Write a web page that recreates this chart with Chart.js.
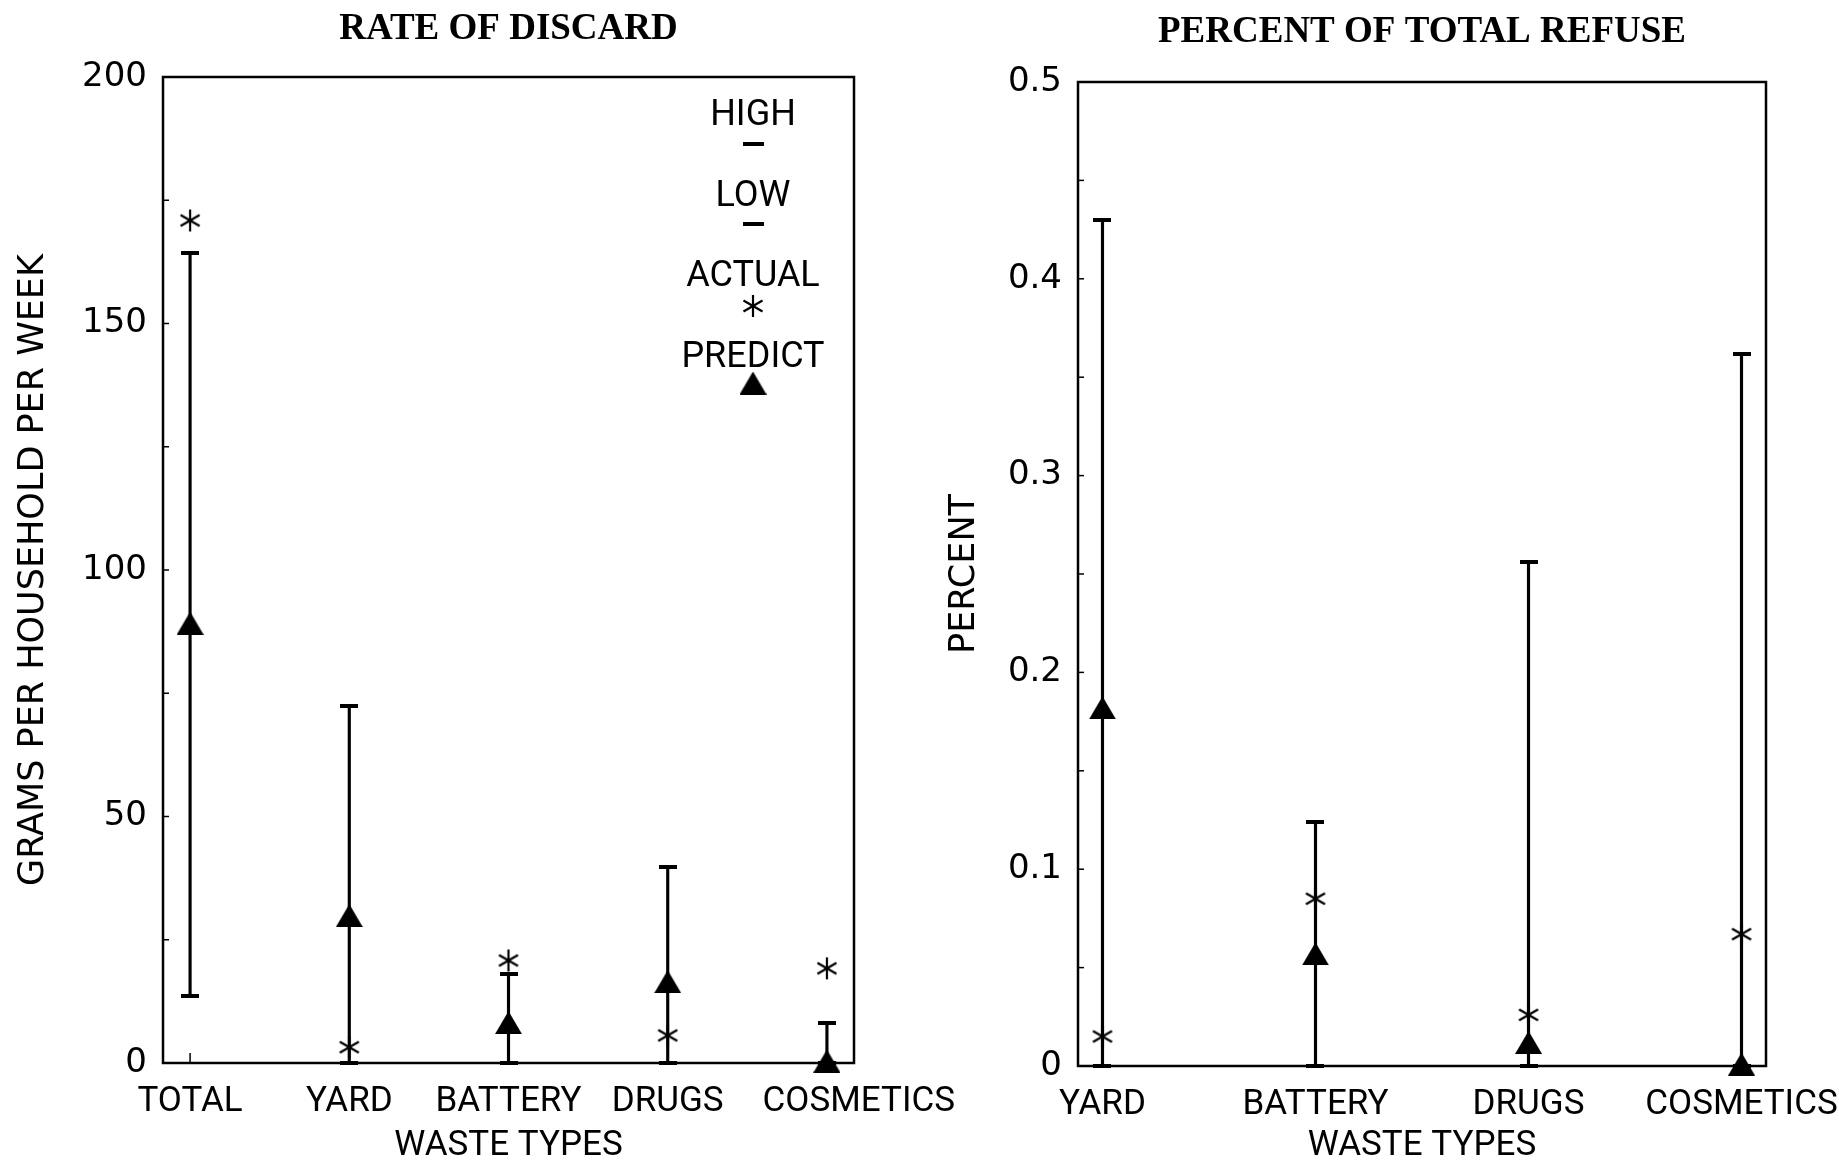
<!DOCTYPE html>
<html><head><meta charset="utf-8">
<script src="https://cdn.jsdelivr.net/npm/chart.js@4.4.1/dist/chart.umd.min.js"></script>
<style>
html,body{margin:0;padding:0;background:#fff;width:1839px;height:1161px;overflow:hidden}
#c1{position:absolute;left:0;top:0;z-index:2}
#c2{position:absolute;left:931px;top:0;z-index:1}
</style></head><body>
<canvas id="c1" width="962" height="1161"></canvas>
<canvas id="c2" width="908" height="1161"></canvas>
<script>
// ---- data: RATE OF DISCARD (grams per household per week)
const discardCategories = ['TOTAL', 'YARD', 'BATTERY', 'DRUGS', 'COSMETICS'];
const discardHigh    = [164.3, 72.5, 18.0, 39.7, 8.2];
const discardLow     = [13.5, 0, 0, 0, 0];
const discardActual  = [170.9, 3.2, 20.8, 5.6, 19.2];
const discardPredict = [89.2, 29.9, 8.2, 16.5, 0.4];
const discardTicks   = [0, 50, 100, 150, 200];
const discardMinor   = [25, 75, 125, 175];

// ---- data: PERCENT OF TOTAL REFUSE
const refuseCategories = ['YARD', 'BATTERY', 'DRUGS', 'COSMETICS'];
const refuseHigh    = [0.430, 0.124, 0.256, 0.362];
const refuseLow     = [0, 0, 0, 0];
const refuseActual  = [0.015, 0.085, 0.026, 0.067];
const refusePredict = [0.182, 0.057, 0.012, 0.001];
const refuseTicks   = [0, 0.1, 0.2, 0.3, 0.4, 0.5];
const refuseMinor   = [0.05, 0.15, 0.25, 0.35, 0.45];

const legendLabels = ['HIGH', 'LOW', 'ACTUAL', 'PREDICT'];

// ---- marker images
function makeAsterisk(size, lw) {
  const c = document.createElement('canvas'); c.width = c.height = size;
  const g = c.getContext('2d'); g.strokeStyle = '#000'; g.lineWidth = lw;
  const r = size / 2 - 1, cx = size / 2, cy = size / 2;
  for (const a of [90, 30, -30]) {
    const t = a * Math.PI / 180;
    g.beginPath();
    g.moveTo(cx - r * Math.cos(t), cy - r * Math.sin(t));
    g.lineTo(cx + r * Math.cos(t), cy + r * Math.sin(t));
    g.stroke();
  }
  return c;
}
function makeTriangle(w, h) {
  const c = document.createElement('canvas'); c.width = w; c.height = h;
  const g = c.getContext('2d'); g.fillStyle = '#000';
  g.beginPath(); g.moveTo(w / 2, 0); g.lineTo(w, h); g.lineTo(0, h); g.closePath(); g.fill();
  return c;
}
function makeCap(w, h) {
  const c = document.createElement('canvas'); c.width = w; c.height = h;
  const g = c.getContext('2d'); g.fillStyle = '#000'; g.fillRect(0, 0, w, h);
  return c;
}
const starImg = makeAsterisk(24, 2.2);
const triImg = makeTriangle(27, 23);
const capImg = makeCap(18, 4);
const legCapImg = makeCap(21, 4);

const tickFont = {family: '"DejaVu Sans", sans-serif', size: 34};
const catFont = {family: 'Roboto, "Liberation Sans", sans-serif', size: 35};
const xTitleFont = {family: 'Roboto, "Liberation Sans", sans-serif', size: 35, lineHeight: 0.85};
const yTitleFont = {family: '"DejaVu Sans", sans-serif', size: 35};

const decor = {
  id: 'decor',
  afterDatasetsDraw(chart, args, o) {
    const {ctx, chartArea: a, scales: {x, y}} = chart;
    ctx.save();
    ctx.strokeStyle = '#000';
    ctx.lineWidth = 2.5;
    ctx.strokeRect(a.left, a.top, a.right - a.left, a.bottom - a.top);
    ctx.lineWidth = 1.5;
    for (const v of o.yMinor.concat(o.yMajor)) {
      const py = y.getPixelForValue(v);
      ctx.beginPath(); ctx.moveTo(a.left, py); ctx.lineTo(a.left + 6, py); ctx.stroke();
    }
    for (const v of o.xTicks) {
      const px = x.getPixelForValue(v);
      ctx.beginPath(); ctx.moveTo(px, a.bottom); ctx.lineTo(px, a.bottom - 10); ctx.stroke();
    }
    ctx.fillStyle = '#000';
    ctx.font = 'bold 37px "Liberation Serif", serif';
    ctx.textAlign = 'center'; ctx.textBaseline = 'middle';
    ctx.fillText(o.title, (a.left + a.right) / 2, o.titleY);
    if (o.legend) {
      const cx = a.right - 101;
      ctx.font = '36px Roboto, "Liberation Sans", sans-serif';
      const textY = [116, 197, 277, 358];
      const markY = [144, 224, 306, 383];
      const imgs = [legCapImg, legCapImg, starImg, triImg];
      legendLabels.forEach((t, i) => {
        ctx.fillText(t, cx, textY[i]);
        const im = imgs[i];
        ctx.drawImage(im, cx - im.width / 2, markY[i] - im.height / 2);
      });
    }
    ctx.restore();
  }
};

function makeChart(el, cats, high, low, actual, predict, ticks, minor, ymax, cfg) {
  const xs = cats.map((_, i) => i + 1);
  const last = cats.length;
  const pts = arr => xs.map((x, i) => ({x, y: arr[i]}));
  const pointDs = (arr, img, order) => ({
    type: 'line', data: pts(arr), showLine: false, pointStyle: img,
    pointRadius: 10, pointHoverRadius: 10, clip: false, order
  });
  return new Chart(document.getElementById(el), {
    type: 'bar',
    data: {
      datasets: [
        {type: 'bar', data: xs.map((x, i) => ({x, y: [low[i], high[i]]})),
         backgroundColor: '#000', borderWidth: 0, barThickness: 2.5, order: 5},
        pointDs(high, capImg, 4),
        pointDs(low, capImg, 3),
        pointDs(actual, starImg, 2),
        pointDs(predict, triImg, 1)
      ]
    },
    options: {
      responsive: false, animation: false, events: [],
      layout: {padding: {top: cfg.top, right: cfg.right, left: 0, bottom: 0}},
      plugins: {
        legend: {display: false}, tooltip: {enabled: false},
        decor: {title: cfg.title, titleY: cfg.titleY, legend: cfg.legend,
                yMinor: minor, yMajor: ticks, xTicks: xs}
      },
      scales: {
        x: {
          type: 'linear', offset: false,
          min: 1 - cfg.xPad, max: last + cfg.xPad,
          // the last category label sits slightly right of its tick in the original
          afterBuildTicks: s => { s.ticks = xs.map(v => ({value: v + (v === last ? cfg.lastShift : 0)})); },
          ticks: {callback: (v, i) => cats[i] || '', font: catFont, color: '#000',
                  padding: 18, maxRotation: 0, autoSkip: false},
          grid: {display: false, drawTicks: false},
          border: {display: false},
          title: {display: true, text: 'WASTE TYPES', font: xTitleFont, color: '#000',
                  padding: {top: 0, bottom: 0}},
          afterFit: s => { s.height = cfg.xH; s.paddingLeft = 0; s.paddingRight = 0; }
        },
        y: {
          min: 0, max: ymax,
          afterBuildTicks: s => { s.ticks = ticks.map(v => ({value: v})); },
          ticks: {callback: v => String(v), font: tickFont, color: '#000', padding: 16},
          grid: {display: false, drawTicks: false},
          border: {display: false},
          title: {display: true, text: cfg.yTitle, font: yTitleFont, color: '#000',
                  padding: {top: 13, bottom: 0}},
          afterFit: s => { s.width = cfg.yW; s.paddingTop = 0; s.paddingBottom = 0; }
        }
      }
    },
    plugins: [decor]
  });
}

makeChart('c1', discardCategories, discardHigh, discardLow, discardActual, discardPredict,
  discardTicks, discardMinor, 200,
  {top: 77, right: 962 - 854, xH: 1161 - 1063, yW: 163, xPad: 0.17,
   title: 'RATE OF DISCARD', titleY: 29.5, legend: true, lastShift: 0.2,
   yTitle: 'GRAMS PER HOUSEHOLD PER WEEK'});

makeChart('c2', refuseCategories, refuseHigh, refuseLow, refuseActual, refusePredict,
  refuseTicks, refuseMinor, 0.5,
  {top: 82, right: 908 - (1766 - 931), xH: 1161 - 1066, yW: 1078 - 931, xPad: 0.115,
   title: 'PERCENT OF TOTAL REFUSE', titleY: 32.5, legend: false, lastShift: 0,
   yTitle: 'PERCENT'});
</script>
</body></html>
